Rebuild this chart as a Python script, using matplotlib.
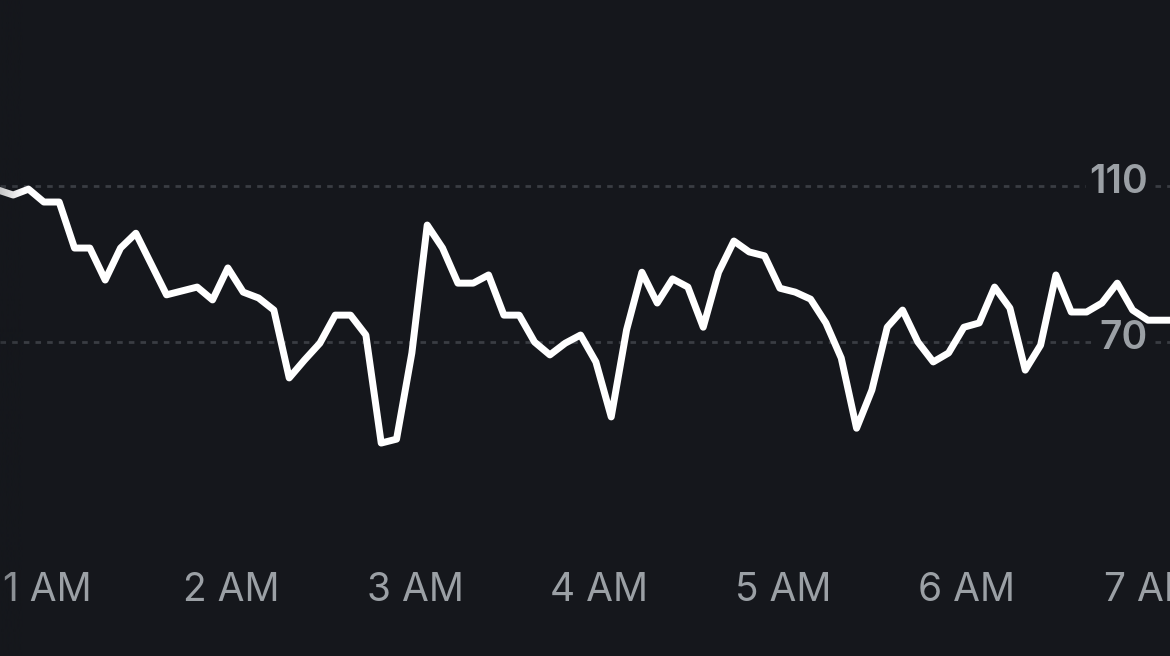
import numpy as np
import matplotlib
matplotlib.use('Agg')
import matplotlib.pyplot as plt
import matplotlib.transforms as mtransforms

plt.rcParams['font.family'] = ['Inter', 'DejaVu Sans']

# readings every 5 minutes, first one at 0:44 AM
start_minute = -16
step_minutes = 5
heart_rate = [
    109.0, 107.7, 109.2, 105.9, 105.9, 94.1, 94.1, 85.9, 94.1, 97.9,
    90.0, 82.1, 83.1, 84.1, 80.8, 89.0, 82.8, 81.3, 78.2, 60.8,
    65.4, 69.7, 76.9, 76.9, 71.8, 44.1, 45.1, 67.2, 100.0, 94.1,
    85.1, 85.1, 87.2, 76.9, 76.9, 70.0, 66.7, 69.7, 71.8, 64.9,
    50.8, 73.1, 87.9, 80.0, 86.2, 84.1, 73.8, 87.9, 95.9, 93.1,
    92.1, 83.8, 82.8, 81.0, 74.9, 65.9, 47.9, 57.7, 73.8, 78.2,
    70.0, 64.9, 67.2, 73.8, 74.9, 84.1, 78.7, 62.8, 69.2, 87.2,
    77.7, 77.7, 80.0, 85.1, 78.2, 75.6, 75.6, 75.6,
]
hour_labels = ['1 AM', '2 AM', '3 AM', '4 AM', '5 AM', '6 AM', '7 AM']
grid_values = [110, 70]

bg = '#15171c'
label_color = '#9ba0a5'

minutes = start_minute + step_minutes * np.arange(len(heart_rate))

fig = plt.figure(figsize=(11.7, 6.56), dpi=100, facecolor=bg)
ax = fig.add_axes([0, 0, 1, 1])
ax.set_facecolor(bg)
ax.set_xlim(-15.3, 366.2)
ax.set_ylim(-10.5, 157.7)
ax.axis('off')

# dotted guide lines with value labels on the right
for v in grid_values:
    ax.axhline(v, color='#3a3d43', lw=2, dashes=(2, 2.2), zorder=1)
    ax.text(0.981, v + 1, str(v), transform=mtransforms.blended_transform_factory(ax.transAxes, ax.transData),
            ha='right', va='center', fontsize=28, fontweight='semibold', color=label_color, zorder=2,
            bbox=dict(facecolor=bg, edgecolor='none', pad=2))

ax.plot(minutes, heart_rate, color='white', lw=5, solid_joinstyle='round',
        solid_capstyle='round', zorder=3)

# fade at the left edge
fade = np.zeros((1, 50, 4))
fade[..., :3] = matplotlib.colors.to_rgb(bg)
fade[..., 3] = np.linspace(0.25, 0, 50)
ax.imshow(fade, extent=[0, 0.02, 0, 1], transform=ax.transAxes, aspect='auto', zorder=4)

# hour labels along the bottom
trans = mtransforms.blended_transform_factory(ax.transData, ax.transAxes)
for i, lab in enumerate(hour_labels):
    ax.text(i * 60, 0.1, lab, transform=trans, ha='center', va='center',
            fontsize=28, color=label_color)

fig.savefig('out.png', dpi=100, facecolor=bg)
